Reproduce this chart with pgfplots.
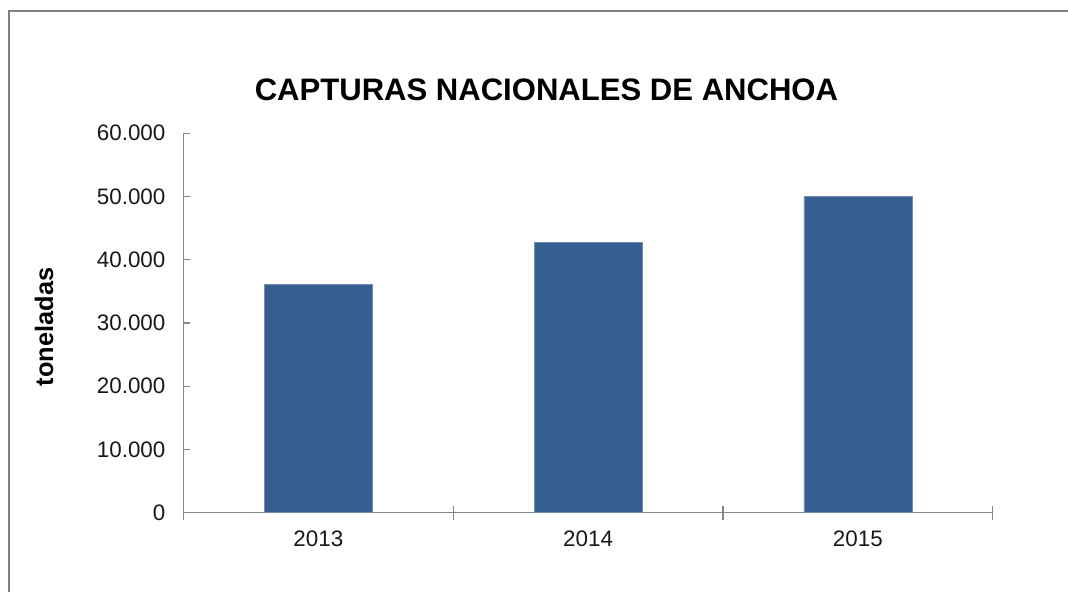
\documentclass[border=0pt]{standalone}
\usepackage{pgfplots}
\pgfplotsset{compat=1.18}
\usepackage{fontspec}
\setmainfont{Liberation Sans}
\definecolor{barblue}{RGB}{54,94,144}
\definecolor{axgray}{RGB}{134,134,134}
\definecolor{framegray}{RGB}{128,128,128}
\begin{document}
\begin{tikzpicture}
\useasboundingbox (-137.6pt,-59.5pt) rectangle (663.4pt,384.5pt);
\begin{axis}[
  at={(0,0)}, anchor=south west,
  scale only axis,
  width=607pt, height=284.6pt,
  xmin=-0.5, xmax=2.5,
  ymin=0, ymax=60000,
  axis lines*=left,
  axis line style={-, draw=axgray, line width=1pt},
  xtick={0,1,2},
  xticklabels={2013,2014,2015},
  major x tick style={draw=none},
  minor xtick={-0.5,0.5,1.5,2.5},
  minor tick length=10.5pt,
  minor x tick style={draw=axgray, line width=1pt, yshift=-5.25pt},
  ytick={0,10000,20000,30000,40000,50000,60000},
  tick align=inside,
  major tick length=5.25pt,
  major y tick style={draw=axgray, line width=1pt},
  /pgf/number format/assume math mode=true,
  /pgf/number format/1000 sep={.},
  scaled y ticks=false,
  tick label style={font=\fontsize{16.8}{19}\selectfont, text=black!90},
  yticklabel style={xshift=-10pt},
  xticklabel style={yshift=-10pt},
  ]
  \addplot[ybar, bar width=81pt, fill=barblue, draw=barblue!70!white, line width=0.5pt]
    coordinates {(0,36100) (1,42700) (2,50000)};
\end{axis}
\draw[framegray, line width=1.5pt] (-130.9pt,-70pt) -- (-130.9pt,376.3pt) -- (680pt,376.3pt);
\node[anchor=base, font=\bfseries\fontsize{23.3}{26}\selectfont] at (272.25pt,309.2pt) {CAPTURAS NACIONALES DE ANCHOA};
\node[rotate=90, font=\bfseries\fontsize{19}{22}\selectfont] at (-104.6pt,139.3pt) {toneladas};
\end{tikzpicture}
\end{document}
